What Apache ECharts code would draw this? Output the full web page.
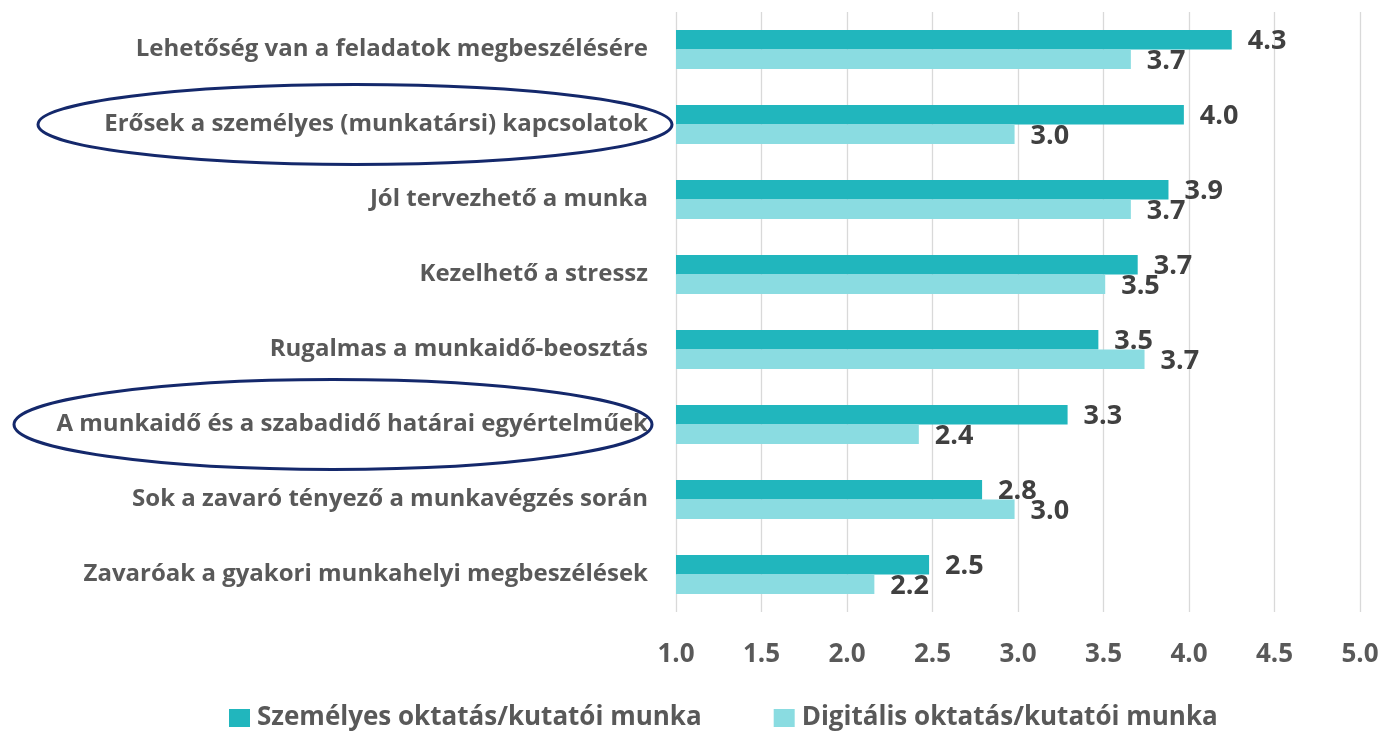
<!DOCTYPE html>
<html>
<head>
<meta charset="utf-8">
<script src="https://cdn.jsdelivr.net/npm/echarts@6/dist/echarts.min.js"></script>
<style>
html,body{margin:0;padding:0;background:#fff;}
#chart{width:1384px;height:731px;}
</style>
</head>
<body>
<div id="chart"></div>
<script>
const categories = [
  "Lehetőség van a feladatok megbeszélésére",
  "Erősek a személyes (munkatársi) kapcsolatok",
  "Jól tervezhető a munka",
  "Kezelhető a stressz",
  "Rugalmas a munkaidő-beosztás",
  "A munkaidő és a szabadidő határai egyértelműek",
  "Sok a zavaró tényező a munkavégzés során",
  "Zavaróak a gyakori munkahelyi megbeszélések"
];
const seriesNames = ["Személyes oktatás/kutatói munka", "Digitális oktatás/kutatói munka"];
const szemelyes = [4.25, 3.97, 3.88, 3.70, 3.47, 3.29, 2.79, 2.48];
const digitalis = [3.66, 2.98, 3.66, 3.51, 3.74, 2.42, 2.98, 2.16];
const xTicks = { min: 1.0, max: 5.0, interval: 0.5 };
const highlighted = [1, 5];

const FONT = "Open Sans";
const chart = echarts.init(document.getElementById('chart'), null, { renderer: 'canvas' });

const labelStyle = {
  show: true,
  position: 'right',
  distance: 16,
  offset: [0, 2],
  fontFamily: FONT,
  fontWeight: 'bold',
  fontSize: 27,
  color: '#404040',
  formatter: p => p.value.toFixed(1)
};

chart.setOption({
  animation: false,
  backgroundColor: '#ffffff',
  grid: { left: 676, right: 24, top: 12, bottom: 119, containLabel: false },
  legend: {
    data: seriesNames,
    left: 224,
    top: 700,
    icon: 'rect',
    itemWidth: 21,
    itemHeight: 18,
    itemGap: 72,
    textStyle: { fontFamily: FONT, fontWeight: 'bold', fontSize: 26, color: '#595959', padding: [0, 0, 0, 2] }
  },
  xAxis: {
    type: 'value',
    min: xTicks.min,
    max: xTicks.max,
    interval: xTicks.interval,
    axisLine: { show: false },
    axisTick: { show: false },
    splitLine: { show: true, lineStyle: { color: '#D9D9D9', width: 1.3 } },
    axisLabel: {
      margin: 30,
      fontFamily: FONT, fontWeight: 'bold', fontSize: 26, color: '#595959',
      formatter: v => v.toFixed(1)
    }
  },
  yAxis: {
    type: 'category',
    data: categories,
    inverse: true,
    axisLine: { show: false },
    axisTick: { show: false },
    axisLabel: { margin: 28, fontFamily: FONT, fontWeight: 'bold', fontSize: 24, color: '#595959' }
  },
  series: [
    {
      name: seriesNames[0], type: 'bar', data: szemelyes,
      barWidth: 19.5, barGap: '0%',
      itemStyle: { color: '#21B6BD' },
      label: labelStyle
    },
    {
      name: seriesNames[1], type: 'bar', data: digitalis,
      barWidth: 19.5, barGap: '0%',
      itemStyle: { color: '#8ADCE1' },
      label: labelStyle
    }
  ]
});

// annotation ellipses around highlighted category labels
const ellipseDefs = [
  { idx: highlighted[0], cx: 355, rx: 317, ry: 40, dy: 0 },
  { idx: highlighted[1], cx: 333, rx: 319, ry: 45, dy: 0 }
];
const graphics = ellipseDefs.map(e => {
  const cy = chart.convertToPixel({ yAxisIndex: 0 }, categories[e.idx]) + e.dy;
  return {
    type: 'ellipse',
    shape: { cx: e.cx, cy: cy, rx: e.rx, ry: e.ry },
    style: { fill: 'none', stroke: '#14286B', lineWidth: 3 },
    z: 100
  };
});
chart.setOption({ graphic: graphics });
</script>
</body>
</html>
